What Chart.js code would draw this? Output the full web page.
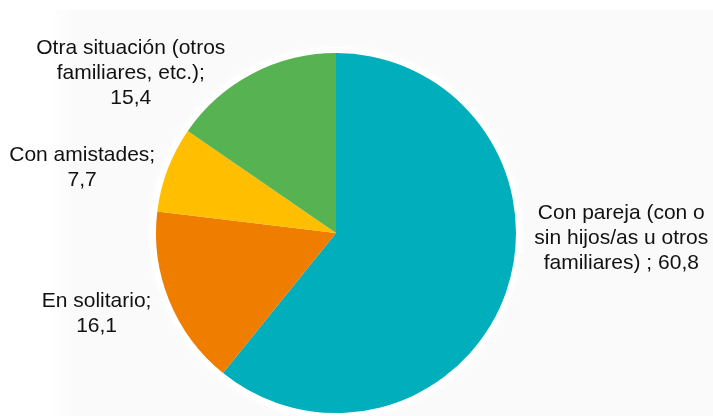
<!DOCTYPE html>
<html lang="es">
<head>
<meta charset="utf-8">
<title>Convivencia</title>
<script src="https://cdn.jsdelivr.net/npm/chart.js@4/dist/chart.umd.min.js"></script>
<style>
  html, body { margin: 0; padding: 0; background: #ffffff; }
  #wrap { width: 713px; height: 416px; position: relative; }
</style>
</head>
<body>
<div id="wrap"><canvas id="pie" width="713" height="416"></canvas></div>
<script>
// Situación de convivencia (%)
const labels = [
  ["Con pareja (con o", "sin hijos/as u otros", "familiares) ; 60,8"],
  ["En solitario;", "16,1"],
  ["Con amistades;", "7,7"],
  ["Otra situación (otros", "familiares, etc.);", "15,4"]
];
const values = [60.8, 16.1, 7.7, 15.4];
const colors = ["#00AEBC", "#EF7D00", "#FFBF00", "#57B251"];

// where each label block sits, relative to the pie centre, in radii
const labelSpots = [
  [1.585, 0.03],
  [-1.33, 0.45],
  [-1.41, -0.36],
  [-1.14, -0.89]
];

const backdrop = {
  id: "backdrop",
  beforeDraw(chart) {
    const ctx = chart.ctx;
    const arc = chart.getDatasetMeta(0).data[0];
    ctx.save();
    const g = ctx.createLinearGradient(50, 0, 74, 0);
    g.addColorStop(0, "#ffffff");
    g.addColorStop(1, "#fafafa");
    ctx.fillStyle = g;
    ctx.fillRect(50, 10, chart.width - 50, chart.height - 10);
    // soft white halo round the pie
    ctx.fillStyle = "#ffffff";
    ctx.shadowColor = "#ffffff";
    ctx.shadowBlur = 10;
    ctx.beginPath();
    ctx.arc(arc.x, arc.y, arc.outerRadius + 6, 0, Math.PI * 2);
    ctx.fill();
    ctx.restore();
  }
};

const sliceLabels = {
  id: "sliceLabels",
  afterDatasetsDraw(chart) {
    const ctx = chart.ctx;
    const arc = chart.getDatasetMeta(0).data[0];
    const r = arc.outerRadius;
    const lineH = 25;
    ctx.save();
    ctx.font = "21px 'Liberation Sans', Arial, sans-serif";
    ctx.fillStyle = "#111111";
    ctx.textAlign = "center";
    ctx.textBaseline = "middle";
    labels.forEach((lines, i) => {
      const cx = arc.x + labelSpots[i][0] * r;
      const cy = arc.y + labelSpots[i][1] * r;
      const top = cy - (lines.length - 1) * lineH / 2;
      lines.forEach((t, j) => ctx.fillText(t, cx, top + j * lineH));
    });
    ctx.restore();
  }
};

new Chart(document.getElementById("pie"), {
  type: "pie",
  data: {
    labels: labels.map(l => l.join(" ")),
    datasets: [{
      data: values,
      backgroundColor: colors,
      borderWidth: 0
    }]
  },
  options: {
    responsive: false,
    animation: false,
    layout: { padding: { left: 0, right: 41, top: 53, bottom: 3 } },
    plugins: {
      legend: { display: false },
      tooltip: { enabled: false }
    }
  },
  plugins: [backdrop, sliceLabels]
});
</script>
</body>
</html>
